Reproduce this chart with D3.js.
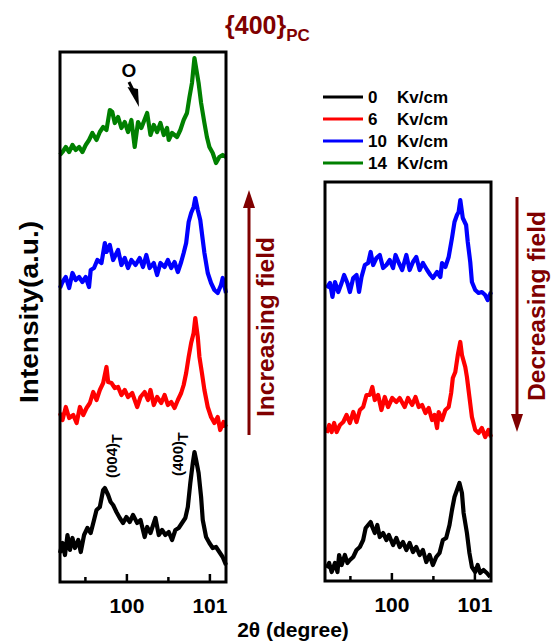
<!DOCTYPE html>
<html>
<head>
<meta charset="utf-8">
<script src="https://cdn.jsdelivr.net/npm/d3@7"></script>
<style>
  body { margin: 0; background: #fff; }
  text { font-family: "Liberation Sans", Arial, sans-serif; font-weight: bold; }
</style>
</head>
<body>
<script>
// 2theta (degree) vs intensity (a.u., offset stacked as in the figure)
var fieldLabels = ["0", "6", "10", "14"];
var xTicks = [100, 101];
var xMinorTicks = [99.5, 100.5];

// increasing field (left panel)
var up0 = [[99.20,29],[99.23,39],[99.26,27],[99.29,47],[99.32,32],[99.35,44],[99.38,34],[99.42,42],[99.45,30],[99.49,47],
  [99.53,54],[99.57,49],[99.61,62],[99.64,72],[99.68,75],[99.72,92],[99.74,94],[99.78,87],[99.81,80],[99.84,77],
  [99.88,70],[99.92,64],[99.96,59],[100.00,65],[100.04,60],[100.08,67],[100.13,59],[100.17,62],[100.22,45],[100.25,55],
  [100.29,49],[100.35,64],[100.39,47],[100.43,52],[100.47,47],[100.51,50],[100.55,42],[100.59,52],[100.63,54],[100.67,59],
  [100.71,64],[100.74,75],[100.77,99],[100.80,119],[100.82,130],[100.84,122],[100.87,109],[100.90,85],[100.92,62],[100.96,45],
  [101.00,39],[101.04,34],[101.08,35],[101.12,30],[101.16,25],[101.20,17]];
var up6 = [[99.20,169],[99.23,162],[99.27,175],[99.31,164],[99.36,167],[99.40,159],[99.44,175],[99.48,167],[99.52,174],[99.56,179],
  [99.60,190],[99.64,182],[99.68,192],[99.72,199],[99.76,215],[99.78,200],[99.82,199],[99.86,194],[99.90,195],[99.94,187],
  [99.98,192],[100.02,185],[100.07,189],[100.13,175],[100.17,185],[100.22,190],[100.26,182],[100.29,192],[100.33,177],[100.37,185],
  [100.42,179],[100.46,187],[100.50,177],[100.54,180],[100.58,174],[100.62,182],[100.66,189],[100.69,197],[100.72,209],[100.75,225],
  [100.78,239],[100.81,249],[100.83,264],[100.86,245],[100.88,225],[100.91,209],[100.94,192],[100.98,175],[101.02,165],[101.06,159],
  [101.10,165],[101.13,152],[101.17,160],[101.20,155]];
var up10 = [[99.20,294],[99.23,300],[99.27,305],[99.31,294],[99.35,309],[99.39,302],[99.43,305],[99.47,300],[99.51,305],[99.55,295],
  [99.57,312],[99.61,314],[99.65,322],[99.70,319],[99.74,339],[99.76,330],[99.80,337],[99.84,322],[99.87,327],[99.90,332],
  [99.94,317],[99.98,324],[100.02,314],[100.06,322],[100.11,317],[100.16,324],[100.20,315],[100.24,327],[100.28,314],[100.33,319],
  [100.37,307],[100.41,319],[100.46,315],[100.50,322],[100.54,314],[100.58,320],[100.62,310],[100.66,320],[100.69,329],[100.72,339],
  [100.75,360],[100.78,369],[100.81,375],[100.83,384],[100.86,372],[100.89,362],[100.92,342],[100.94,329],[100.98,309],[101.02,299],
  [101.06,292],[101.10,289],[101.14,297],[101.16,304],[101.20,289]];
var up14 = [[99.20,427],[99.23,430],[99.27,435],[99.31,430],[99.35,437],[99.39,432],[99.43,435],[99.47,430],[99.51,437],[99.55,442],
  [99.59,449],[99.64,442],[99.68,450],[99.72,455],[99.76,452],[99.80,472],[99.83,470],[99.86,459],[99.90,465],[99.94,454],
  [99.98,460],[100.02,450],[100.06,462],[100.10,435],[100.14,460],[100.18,454],[100.25,469],[100.29,447],[100.33,457],[100.37,450],
  [100.41,459],[100.45,447],[100.49,454],[100.51,442],[100.55,449],[100.61,445],[100.65,452],[100.69,462],[100.73,469],[100.76,485],
  [100.79,499],[100.82,524],[100.85,509],[100.87,499],[100.90,479],[100.94,459],[100.97,445],[101.00,435],[101.04,429],[101.08,419],
  [101.12,425],[101.16,427],[101.20,425]];

// decreasing field (right panel)
var down10 = [[99.22,293],[99.26,298],[99.29,284],[99.32,299],[99.36,289],[99.40,298],[99.43,306],[99.47,298],[99.50,289],[99.54,303],
  [99.58,306],[99.61,289],[99.64,304],[99.68,316],[99.72,318],[99.75,329],[99.78,316],[99.82,323],[99.86,326],[99.90,313],
  [99.94,316],[99.98,321],[100.02,313],[100.05,326],[100.09,318],[100.13,311],[100.18,326],[100.22,311],[100.26,319],[100.30,324],
  [100.34,311],[100.38,318],[100.43,311],[100.47,306],[100.50,303],[100.55,309],[100.59,304],[100.61,318],[100.65,314],[100.69,324],
  [100.73,343],[100.76,359],[100.79,366],[100.81,369],[100.83,381],[100.86,363],[100.90,356],[100.92,339],[100.95,319],[100.97,299],
  [101.01,291],[101.05,288],[101.09,289],[101.13,286],[101.16,281],[101.20,289]];
var down6 = [[99.22,148],[99.25,156],[99.28,149],[99.31,158],[99.34,149],[99.38,156],[99.42,159],[99.46,166],[99.50,158],[99.54,169],
  [99.58,159],[99.62,171],[99.66,174],[99.70,186],[99.74,186],[99.77,194],[99.80,181],[99.84,186],[99.88,171],[99.92,184],
  [99.96,174],[100.01,183],[100.06,179],[100.10,183],[100.16,174],[100.20,183],[100.25,176],[100.29,184],[100.33,174],[100.37,176],
  [100.41,168],[100.45,173],[100.49,161],[100.52,166],[100.55,153],[100.57,169],[100.61,161],[100.65,171],[100.69,174],[100.72,188],
  [100.74,203],[100.77,209],[100.80,226],[100.83,239],[100.85,226],[100.89,214],[100.91,204],[100.94,184],[100.97,164],[101.01,151],
  [101.05,148],[101.09,153],[101.13,144],[101.17,151],[101.20,144]];
var down0 = [[99.22,13],[99.25,18],[99.28,9],[99.32,18],[99.35,9],[99.37,26],[99.40,16],[99.44,26],[99.47,18],[99.50,21],
  [99.54,24],[99.58,31],[99.62,34],[99.66,41],[99.69,53],[99.72,56],[99.75,59],[99.77,54],[99.80,48],[99.83,56],
  [99.86,44],[99.90,48],[99.94,41],[99.97,46],[100.02,36],[100.06,43],[100.10,34],[100.14,39],[100.18,31],[100.22,38],
  [100.26,29],[100.30,34],[100.34,26],[100.38,31],[100.42,19],[100.46,26],[100.50,16],[100.54,24],[100.58,28],[100.62,41],
  [100.66,43],[100.70,56],[100.73,71],[100.76,84],[100.79,91],[100.82,98],[100.85,88],[100.87,68],[100.91,48],[100.94,28],
  [100.97,14],[101.01,9],[101.04,16],[101.07,8],[101.11,11],[101.15,8],[101.19,4]];

var colors = {"0": "#000000", "6": "#ff0000", "10": "#0000ff", "14": "#008000"};
var darkRed = "#800000";

var svg = d3.select("body").append("svg")
    .attr("width", 560)
    .attr("height", 643);

function panel(x0, x1, y0, y1, yMax, series) {
  var x = d3.scaleLinear().domain([99.2, 101.2]).range([x0, x1]);
  var y = d3.scaleLinear().domain([0, yMax]).range([y1, y0]);
  var g = svg.append("g");

  var line = d3.line()
      .x(function (d) { return x(d[0]); })
      .y(function (d) { return y(d[1]); });

  series.forEach(function (s) {
    g.append("path")
        .attr("d", line(s.data))
        .attr("fill", "none")
        .attr("stroke", colors[s.key])
        .attr("stroke-width", 4.2)
        .attr("stroke-linejoin", "round");
  });

  var ax = g.append("g")
      .attr("transform", "translate(0," + y1 + ")")
      .call(d3.axisBottom(x).tickValues(xTicks).tickSize(-8).tickPadding(16).tickFormat(d3.format("d")));
  ax.select(".domain").remove();
  ax.selectAll("line").attr("stroke-width", 2.5);
  ax.selectAll("text").attr("font-size", 21).attr("fill", "#000");

  var mx = g.append("g")
      .attr("transform", "translate(0," + y1 + ")")
      .call(d3.axisBottom(x).tickValues(xMinorTicks).tickSize(-5).tickFormat(""));
  mx.select(".domain").remove();
  mx.selectAll("line").attr("stroke-width", 2.5);

  g.append("rect")
      .attr("x", x0).attr("y", y0)
      .attr("width", x1 - x0).attr("height", y1 - y0)
      .attr("fill", "none")
      .attr("stroke", "#000")
      .attr("stroke-width", 3);
  return {x: x, y: y};
}

panel(60, 226, 52, 582, 530, [
  {key: "0", data: up0}, {key: "6", data: up6}, {key: "10", data: up10}, {key: "14", data: up14}
]);
panel(325, 491, 182, 581, 399, [
  {key: "0", data: down0}, {key: "6", data: down6}, {key: "10", data: down10}
]);

// title
var title = svg.append("text")
    .attr("x", 225).attr("y", 34)
    .attr("font-size", 25)
    .attr("fill", darkRed);
title.append("tspan").text("{400}");
title.append("tspan").attr("font-size", 17).attr("dy", 7).text("PC");

// legend
var legend = svg.append("g");
fieldLabels.forEach(function (k, i) {
  var yy = 97 + i * 22;
  legend.append("line")
      .attr("x1", 323).attr("x2", 363)
      .attr("y1", yy).attr("y2", yy)
      .attr("stroke", colors[k]).attr("stroke-width", 3);
  legend.append("text").attr("x", 368).attr("y", yy + 6).attr("font-size", 17).text(k);
  legend.append("text").attr("x", 397).attr("y", yy + 6).attr("font-size", 17).text("Kv/cm");
});

// axis titles
svg.append("text")
    .attr("x", 293).attr("y", 637)
    .attr("text-anchor", "middle")
    .attr("font-size", 21)
    .text("2\u03b8 (degree)");

svg.append("text")
    .attr("transform", "translate(38,312) rotate(-90)")
    .attr("text-anchor", "middle")
    .attr("font-size", 25)
    .attr("textLength", 182)
    .attr("lengthAdjust", "spacingAndGlyphs")
    .text("Intensity(a.u.)");

// peak labels
function peakLabel(px, py, txt) {
  var t = svg.append("text")
      .attr("transform", "translate(" + px + "," + py + ") rotate(-90)")
      .attr("font-size", 15);
  t.append("tspan").text(txt);
  t.append("tspan").attr("dy", 5).attr("font-size", 14).text("T");
}
peakLabel(117, 478, "(004)");
peakLabel(183, 476, "(400)");

// "O" marker with arrow
svg.append("text")
    .attr("x", 129).attr("y", 77)
    .attr("text-anchor", "middle")
    .attr("font-size", 19)
    .text("O");
svg.append("line")
    .attr("x1", 129).attr("y1", 82).attr("x2", 134).attr("y2", 92)
    .attr("stroke", "#000").attr("stroke-width", 3);
svg.append("path")
    .attr("d", "M127.5,87 L138,89 L139,107 Z")
    .attr("fill", "#000");

// field arrows
function fieldArrow(ax, yTail, yTip) {
  var dir = yTip < yTail ? 1 : -1;
  svg.append("line")
      .attr("x1", ax).attr("x2", ax)
      .attr("y1", yTail).attr("y2", yTip + dir * 14)
      .attr("stroke", darkRed).attr("stroke-width", 3);
  svg.append("path")
      .attr("d", "M" + ax + "," + yTip + " L" + (ax - 6) + "," + (yTip + dir * 18) + " L" + (ax + 6) + "," + (yTip + dir * 18) + " Z")
      .attr("fill", darkRed);
}
fieldArrow(249, 435, 190);
fieldArrow(517, 197, 432);

svg.append("text")
    .attr("transform", "translate(274,327) rotate(-90)")
    .attr("text-anchor", "middle")
    .attr("font-size", 23)
    .attr("textLength", 180)
    .attr("lengthAdjust", "spacingAndGlyphs")
    .attr("fill", darkRed)
    .text("Increasing field");
svg.append("text")
    .attr("transform", "translate(545,306) rotate(-90)")
    .attr("text-anchor", "middle")
    .attr("font-size", 23)
    .attr("textLength", 190)
    .attr("lengthAdjust", "spacingAndGlyphs")
    .attr("fill", darkRed)
    .text("Decreasing field");
</script>
</body>
</html>
